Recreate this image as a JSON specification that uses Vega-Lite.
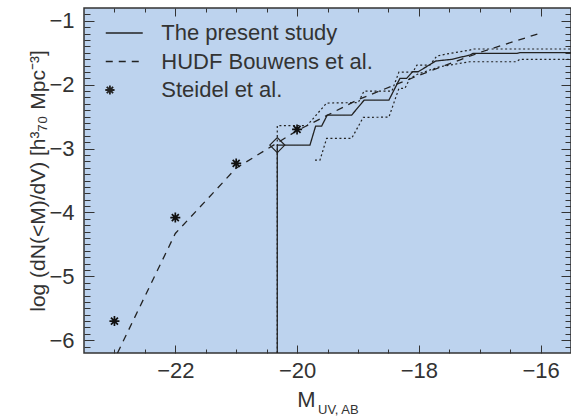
{
  "$schema": "https://vega.github.io/schema/vega-lite/v6.json",
  "width": 487,
  "height": 345,
  "autosize": {"type": "none"},
  "padding": {"left": 84, "top": 8, "right": 0, "bottom": 65},
  "config": {
    "view": {"fill": "#bdd3ee", "stroke": "#333333", "strokeWidth": 1.5},
    "axis": {"domain": false, "grid": false, "labelFont": "Liberation Sans", "titleFont": "Liberation Sans", "labelColor": "#333333", "titleColor": "#333333", "titleFontWeight": "normal"}
  },
  "layer": [
    {
      "data": {"values": [
        {"series": "The present study", "i": 0, "x": -20.325, "y": -2.946},
        {"series": "The present study", "i": 1, "x": -19.788, "y": -2.946},
        {"series": "The present study", "i": 2, "x": -19.695, "y": -2.648},
        {"series": "The present study", "i": 3, "x": -19.596, "y": -2.648},
        {"series": "The present study", "i": 4, "x": -19.504, "y": -2.476},
        {"series": "The present study", "i": 5, "x": -19.103, "y": -2.476},
        {"series": "The present study", "i": 6, "x": -18.897, "y": -2.241},
        {"series": "The present study", "i": 7, "x": -18.491, "y": -2.241},
        {"series": "The present study", "i": 8, "x": -18.31, "y": -1.901},
        {"series": "The present study", "i": 9, "x": -18.2, "y": -1.901},
        {"series": "The present study", "i": 10, "x": -18.102, "y": -1.798},
        {"series": "The present study", "i": 11, "x": -18.01, "y": -1.798},
        {"series": "The present study", "i": 12, "x": -17.724, "y": -1.63},
        {"series": "The present study", "i": 13, "x": -17.461, "y": -1.604},
        {"series": "The present study", "i": 14, "x": -17.161, "y": -1.536},
        {"series": "The present study", "i": 15, "x": -17.107, "y": -1.51},
        {"series": "The present study", "i": 16, "x": -16.39, "y": -1.51},
        {"series": "The present study", "i": 17, "x": -16.34, "y": -1.5},
        {"series": "The present study", "i": 18, "x": -15.5, "y": -1.5},
        {"series": "HUDF Bouwens et al.", "i": 0, "x": -22.95, "y": -6.2},
        {"series": "HUDF Bouwens et al.", "i": 1, "x": -22.0, "y": -4.329},
        {"series": "HUDF Bouwens et al.", "i": 2, "x": -21.0, "y": -3.306},
        {"series": "HUDF Bouwens et al.", "i": 3, "x": -20.0, "y": -2.72},
        {"series": "HUDF Bouwens et al.", "i": 4, "x": -19.0, "y": -2.235},
        {"series": "HUDF Bouwens et al.", "i": 5, "x": -18.0, "y": -1.854},
        {"series": "HUDF Bouwens et al.", "i": 6, "x": -17.0, "y": -1.496},
        {"series": "HUDF Bouwens et al.", "i": 7, "x": -16.0, "y": -1.192}
      ]},
      "mark": {"type": "line", "color": "#222222", "strokeWidth": 1.3},
      "encoding": {
        "x": {"field": "x", "type": "quantitative", "scale": {"domain": [-23.5, -15.5], "nice": false, "zero": false},
          "axis": {"orient": "bottom", "values": [-22, -20, -18, -16], "ticks": false, "labelFontSize": 22, "labelPadding": 7,
            "title": "M", "titleFontSize": 22, "titleAlign": "left", "titleX": 212.7, "titleY": 53.7, "titleBaseline": "alphabetic"}},
        "y": {"field": "y", "type": "quantitative", "scale": {"domain": [-6.2, -0.8], "nice": false, "zero": false},
          "axis": {"orient": "left", "values": [-6, -5, -4, -3, -2, -1], "ticks": false, "labelFontSize": 22, "labelPadding": 10,
            "title": "log (dN(<M)/dV) [h³₇₀ Mpc⁻³]", "titleFontSize": 21, "titleAngle": -90, "titleAlign": "center", "titleBaseline": "alphabetic", "titleX": -40, "titleY": 172.5}},
        "strokeDash": {"field": "series", "type": "nominal",
          "scale": {"domain": ["The present study", "HUDF Bouwens et al.", "Steidel et al."], "range": [[1, 0], [7, 6], [1, 0]]},
          "legend": {"orient": "none", "legendX": 29.25, "legendY": 14, "title": null, "labelFont": "Liberation Sans", "labelFontSize": 22, "labelColor": "#333333", "labelLimit": 0,
            "symbolSize": 342, "labelOffset": 26, "rowPadding": 6.5, "symbolStrokeWidth": 1.3, "symbolStrokeColor": "#222222", "symbolFillColor": "transparent",
            "encode": {"symbols": {"update": {
              "shape": {"signal": "datum.value === 'Steidel et al.' ? 'M-2.05,0L-1.05,0M-1.55,-0.5L-1.55,0.5M-1.9,-0.35L-1.2,0.35M-1.9,0.35L-1.2,-0.35' : 'M-2,0L2,0'"},
              "strokeWidth": {"signal": "datum.value === 'Steidel et al.' ? 1.8 : 1.3"},
              "stroke": {"value": "#222222"},
              "fill": {"value": "transparent"}}}}}},
        "order": {"field": "i", "type": "quantitative"}
      }
    },
    {
      "data": {"values": [
        {"i": 0, "x": -20.325, "y": -6.2},
        {"i": 1, "x": -20.325, "y": -2.641},
        {"i": 2, "x": -19.837, "y": -2.641},
        {"i": 3, "x": -19.514, "y": -2.288},
        {"i": 4, "x": -18.995, "y": -2.28},
        {"i": 5, "x": -18.901, "y": -2.1},
        {"i": 6, "x": -18.442, "y": -2.1},
        {"i": 7, "x": -18.327, "y": -1.803},
        {"i": 8, "x": -18.097, "y": -1.803},
        {"i": 9, "x": -18.031, "y": -1.693},
        {"i": 10, "x": -17.818, "y": -1.693},
        {"i": 11, "x": -17.703, "y": -1.552},
        {"i": 12, "x": -17.489, "y": -1.51},
        {"i": 13, "x": -17.325, "y": -1.485},
        {"i": 14, "x": -17.161, "y": -1.458},
        {"i": 15, "x": -17.095, "y": -1.442},
        {"i": 16, "x": -15.5, "y": -1.442}
      ]},
      "mark": {"type": "line", "color": "#222222", "strokeWidth": 1.2, "strokeDash": [2, 2.5]},
      "encoding": {
        "x": {"field": "x", "type": "quantitative",
          "axis": {"orient": "bottom", "values": [-23, -22.5, -21.5, -21, -20.5, -19.5, -19, -18.5, -17.5, -17, -16.5], "labels": false, "ticks": true, "tickSize": 4, "offset": -4, "tickColor": "#333333", "title": null}},
        "y": {"field": "y", "type": "quantitative",
          "axis": {"orient": "left", "values": [-6.1, -5.9, -5.8, -5.7, -5.6, -5.5, -5.4, -5.3, -5.2, -5.1, -4.9, -4.8, -4.7, -4.6, -4.5, -4.4, -4.3, -4.2, -4.1, -3.9, -3.8, -3.7, -3.6, -3.5, -3.4, -3.3, -3.2, -3.1, -2.9, -2.8, -2.7, -2.6, -2.5, -2.4, -2.3, -2.2, -2.1, -1.9, -1.8, -1.7, -1.6, -1.5, -1.4, -1.3, -1.2, -1.1, -0.9], "labels": false, "ticks": true, "tickSize": 6, "offset": -6, "tickColor": "#333333", "title": null}},
        "order": {"field": "i", "type": "quantitative"}
      }
    },
    {
      "data": {"values": [
        {"i": 0, "x": -19.706, "y": -3.181},
        {"i": 1, "x": -19.624, "y": -3.181},
        {"i": 2, "x": -19.514, "y": -2.841},
        {"i": 3, "x": -19.103, "y": -2.841},
        {"i": 4, "x": -18.913, "y": -2.512},
        {"i": 5, "x": -18.491, "y": -2.508},
        {"i": 6, "x": -18.327, "y": -2.058},
        {"i": 7, "x": -18.228, "y": -2.058},
        {"i": 8, "x": -18.146, "y": -1.901},
        {"i": 9, "x": -18.015, "y": -1.834},
        {"i": 10, "x": -17.818, "y": -1.771},
        {"i": 11, "x": -17.654, "y": -1.719},
        {"i": 12, "x": -17.489, "y": -1.693},
        {"i": 13, "x": -17.325, "y": -1.666},
        {"i": 14, "x": -17.161, "y": -1.641},
        {"i": 15, "x": -16.394, "y": -1.641},
        {"i": 16, "x": -16.34, "y": -1.603},
        {"i": 17, "x": -15.5, "y": -1.603}
      ]},
      "mark": {"type": "line", "color": "#222222", "strokeWidth": 1.2, "strokeDash": [2, 2.5]},
      "encoding": {
        "x": {"field": "x", "type": "quantitative",
          "axis": {"orient": "top", "values": [-23, -22.5, -21.5, -21, -20.5, -19.5, -19, -18.5, -17.5, -17, -16.5], "labels": false, "ticks": true, "tickSize": 4, "offset": -4, "tickColor": "#333333", "title": null}},
        "y": {"field": "y", "type": "quantitative",
          "axis": {"orient": "right", "values": [-6.1, -5.9, -5.8, -5.7, -5.6, -5.5, -5.4, -5.3, -5.2, -5.1, -4.9, -4.8, -4.7, -4.6, -4.5, -4.4, -4.3, -4.2, -4.1, -3.9, -3.8, -3.7, -3.6, -3.5, -3.4, -3.3, -3.2, -3.1, -2.9, -2.8, -2.7, -2.6, -2.5, -2.4, -2.3, -2.2, -2.1, -1.9, -1.8, -1.7, -1.6, -1.5, -1.4, -1.3, -1.2, -1.1, -0.9], "labels": false, "ticks": true, "tickSize": 6, "offset": -6, "tickColor": "#333333", "title": null}},
        "order": {"field": "i", "type": "quantitative"}
      }
    },
    {
      "data": {"values": [
        {"x": -23.0, "y": -5.7},
        {"x": -22.0, "y": -4.08},
        {"x": -21.0, "y": -3.233},
        {"x": -20.0, "y": -2.7}
      ]},
      "mark": {"type": "point", "shape": "M-1,0L1,0M0,-1L0,1M-0.7,-0.7L0.7,0.7M-0.7,0.7L0.7,-0.7", "size": 100, "filled": false, "stroke": "#111111", "strokeWidth": 1.7, "opacity": 1},
      "encoding": {
        "x": {"field": "x", "type": "quantitative",
          "axis": {"orient": "bottom", "values": [-22, -20, -18, -16], "labels": false, "ticks": true, "tickSize": 8, "offset": -8, "tickColor": "#333333", "title": null}},
        "y": {"field": "y", "type": "quantitative",
          "axis": {"orient": "left", "values": [-6, -5, -4, -3, -2, -1], "labels": false, "ticks": true, "tickSize": 10, "offset": -10, "tickColor": "#333333", "title": null}}
      }
    },
    {
      "data": {"values": [{"x": -20.325, "y": -2.946}]},
      "mark": {"type": "point", "shape": "diamond", "size": 225, "filled": false, "stroke": "#222222", "strokeWidth": 1.2, "opacity": 1},
      "encoding": {
        "x": {"field": "x", "type": "quantitative",
          "axis": {"orient": "top", "values": [-22, -20, -18, -16], "labels": false, "ticks": true, "tickSize": 8, "offset": -8, "tickColor": "#333333", "title": null}},
        "y": {"field": "y", "type": "quantitative",
          "axis": {"orient": "right", "values": [-6, -5, -4, -3, -2, -1], "labels": false, "ticks": true, "tickSize": 10, "offset": -10, "tickColor": "#333333", "title": null}}
      }
    },
    {
      "data": {"values": [{"x": -20.325, "y": -6.2, "y2": -2.946}]},
      "mark": {"type": "rule", "color": "#222222", "strokeWidth": 1.3},
      "encoding": {
        "x": {"field": "x", "type": "quantitative",
          "axis": {"orient": "bottom", "labels": false, "ticks": false, "title": "UV, AB", "titleFontSize": 13, "titleAlign": "left", "titleX": 233.5, "titleY": 60, "titleBaseline": "alphabetic"}},
        "y": {"field": "y", "type": "quantitative", "axis": null},
        "y2": {"field": "y2"}
      }
    }
  ],
  "resolve": {"axis": {"x": "independent", "y": "independent"}}
}
